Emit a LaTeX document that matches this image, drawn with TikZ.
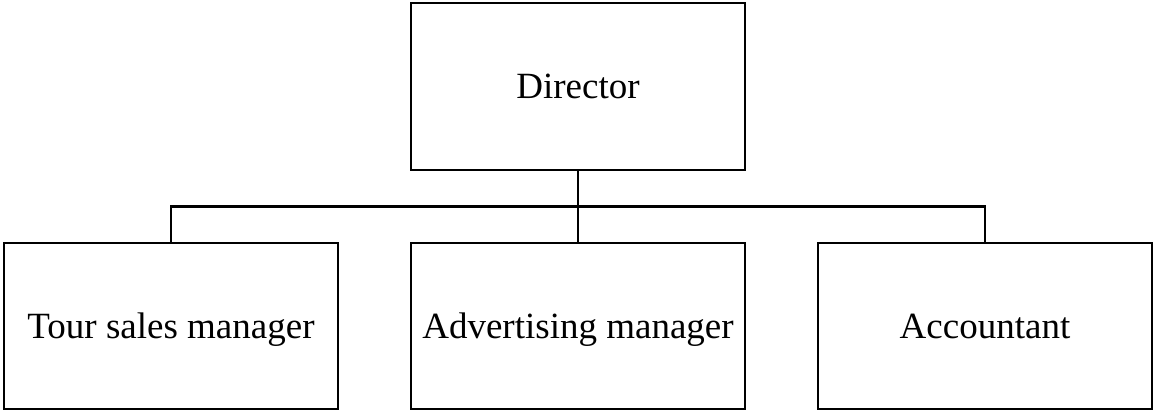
\documentclass[tikz,border=0pt]{standalone}
\usepackage{fontspec}
\setmainfont{Liberation Serif}
\begin{document}
\begin{tikzpicture}[x=1pt,y=-1pt,
  box/.style={draw=black,line width=2.6pt,minimum width=334pt,minimum height=166pt,inner sep=0pt,text height=24.5pt,text depth=0pt,font=\fontsize{37}{44}\selectfont,anchor=center},
  link/.style={draw=black,line width=2.6pt}]
\useasboundingbox (0,0) rectangle (1154,412);
\node[box,minimum height=167pt] (dir) at (578,86.5) {Director};
\node[box] (tsm) at (171,325.8) {Tour sales manager};
\node[box] (adv) at (578,325.8) {Advertising manager};
\node[box] (acc) at (985,325.8) {Accountant};
\coordinate (j) at (578,206.7);
\draw[link] (dir.south) -- (adv.north);
\draw[link] (tsm.north) |- (j) -| (acc.north);
\end{tikzpicture}
\end{document}
